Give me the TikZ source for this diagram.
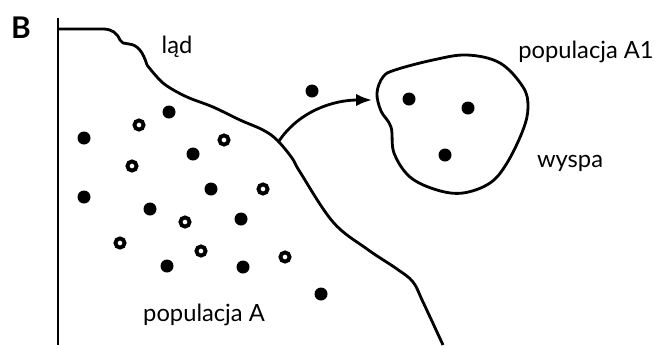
\documentclass[tikz,border=0pt]{standalone}
\usepackage{fontspec}
\setmainfont{Lato}
\usetikzlibrary{arrows.meta, positioning}

\begin{document}
\begin{tikzpicture}[x=0.02cm, y=-0.02cm, line width=1.6pt,
    etykieta/.style={font=\fontsize{13.5}{15}\selectfont, inner sep=0pt},
    pelna/.style={fill=black},
    pusta/.style={draw=black, line width=2.2pt, fill=white}]
    \useasboundingbox (0,0) rectangle (666,345);

    % Define the points for easier reference
    \coordinate (brzegGora) at (58,18);
    \coordinate (brzegDol) at (58,345);
    \coordinate (strzalkaStart) at (279,141);
    \coordinate (strzalkaKoniec) at (372,100);

    % Draw the coast of the mainland
    \draw (brzegGora) -- (brzegDol);
    \draw[line join=round] (58,29) -- (103,29) .. controls (112,29) and (117,33) .. (120,40)
        -- (123,43) -- (129,44) .. controls (138,45) and (143,52) .. (147,65)
        plot[smooth, tension=0.6] coordinates {(147,65) (157,77) (167,86) (187,97) (213,107)
        (240,120) (263,130) (277,140) (292,158) (300,172) (333,222) (367,249) (397,269)
        (413,282) (423,302) (443,345)};

    % Draw the island
    \draw plot[smooth cycle, tension=0.6] coordinates {(395,70) (433,60) (467,55) (500,63)
        (523,87) (528,107) (523,130) (507,163) (490,183) (463,193) (437,190) (410,177)
        (394,153) (391,127) (381,111) (377,93) (383,77)};

    % Arrow from the mainland to the island
    \draw[-{Latex[length=9pt, width=7pt]}] (strzalkaStart) .. controls (300,110) and (335,100) .. (strzalkaKoniec);

    % Plot the points (black and white circles)
    \foreach \x/\y in {84/138, 169/112, 193/154, 211/189, 241/219, 84/197, 150/209, 167/266,
        243/267, 321/294, 312/91, 409/99, 468/108, 445/155}
        \fill[pelna] (\x,\y) circle (3.7pt);
    \foreach \x/\y in {139/125, 224/140, 132/166, 263/189, 185/222, 120/243, 201/251, 285/257}
        \draw[pusta] (\x,\y) circle (2.6pt);

    % Labels
    \node[font=\bfseries\fontsize{17}{19}\selectfont, inner sep=0pt] (litB) at (21,28) {B};
    \node[etykieta] (lad) at (177,47) {ląd};
    \node[etykieta] (popA) at (204,315) {populacja A};
    \node[etykieta] (popA1) at (586,52) {populacja A1};
    \node[etykieta] (wyspa) at (570,163) {wyspa};
\end{tikzpicture}
\end{document}
